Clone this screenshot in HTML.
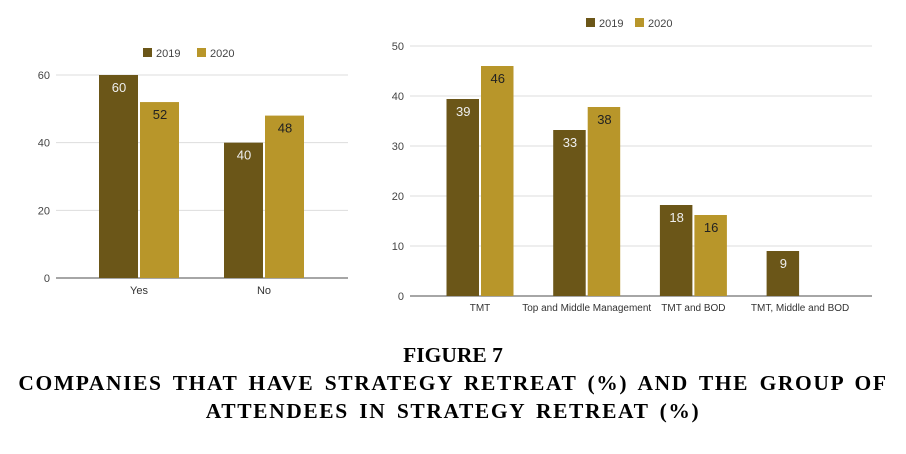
<!DOCTYPE html>
<html><head><meta charset="utf-8"><style>
body{margin:0;background:#fff;width:906px;height:454px;overflow:hidden;position:relative}
.cap{position:absolute;left:0;width:906px;text-align:center;font-family:"Liberation Serif",serif;font-weight:bold;font-size:21.5px;color:#000;line-height:28px;white-space:nowrap}
.wide{letter-spacing:1.6px;word-spacing:3.5px}
</style></head><body>
<svg id="chart" width="906" height="340" style="position:absolute;left:0;top:0" font-family="Liberation Sans, sans-serif"></svg>
<div class="cap" style="top:341px">FIGURE 7<br><span class="wide">COMPANIES THAT HAVE STRATEGY RETREAT (%) AND THE GROUP OF</span><br><span class="wide">ATTENDEES IN STRATEGY RETREAT (%)</span></div>
<script>
const leftCats=["Yes","No"];
const left2019=[60,40];
const left2020=[52,48];
const leftTicks=[0,20,40,60];
const rightCats=["TMT","Top and Middle Management","TMT and BOD","TMT, Middle and BOD"];
const right2019=[39.4,33.2,18.2,9];
const right2020=[46,37.8,16.2,0];
const right2019Labels=["39","33","18","9"];
const right2020Labels=["46","38","16",""];
const rightTicks=[0,10,20,30,40,50];
const C19="#6b5618",C20="#b8962a";
const svg=document.getElementById('chart');
const NS="http://www.w3.org/2000/svg";
function mk(tag,attrs,parent){const e=document.createElementNS(NS,tag);for(const k in attrs)e.setAttribute(k,attrs[k]);(parent||svg).appendChild(e);return e;}
function txt(x,y,s,size,fill,anchor){const t=mk('text',{x:x,y:y,'font-size':size,fill:fill,'text-anchor':anchor||'middle'});t.textContent=s;return t;}
function chart(o){
  const g=mk('g',{});
  
  
  const y=v=>o.y0-(v-o.ymin)/(o.ymax-o.ymin)*(o.y0-o.ytop);
  o.ticks.forEach(t=>{
    const l=mk('line',{x1:o.gx0,x2:o.gx1,y1:y(t),y2:y(t),stroke:t===0?'#888':'#ddd','stroke-width':t===0?1.5:1},g);
    
    
    const tl=txt(o.tickX,y(t)+4,String(t),11,'#444','end');g.appendChild(tl);
    
    
  });
  o.cats.forEach((c,i)=>{
    const cx=o.c0+i*o.step;
    [[o.s19,o.l19,C19,'#eee',-1],[o.s20,o.l20,C20,'#222',0]].forEach(([s,lab,col,lc,off],k)=>{
      const v=s[i];if(!v)return;
      const x=cx+off*o.bw+(k?1:0);
      const r=mk('rect',{x:x,y:y(v),width:o.bw-1,height:y(0)-y(v),fill:col},g);
      
      
      const t=txt(x+o.bw/2,y(v)+17,lab[i],13,lc);g.appendChild(t);
      
      
    });
    const cl=txt(cx,o.y0+o.catDy,c,o.catSize,'#333');g.appendChild(cl);
    
    
  });
  [[C19,'2019',0],[C20,'2020',1]].forEach(([col,s,k])=>{
    const lx=o.legX+k*o.legStep;
    const sq=mk('rect',{x:lx,y:o.legY-5,width:9,height:9,fill:col},g);
    
    
    const t=txt(lx+13,o.legY+4,s,11,'#444','start');g.appendChild(t);
    
    
  });
}
chart({name:'left-chart',cats:leftCats,s19:left2019,s20:left2020,l19:left2019.map(String),l20:left2020.map(String),ticks:leftTicks,ymin:0,ymax:60,y0:278,ytop:75,gx0:56,gx1:348,tickX:50,c0:139,step:125,bw:40,catDy:16,catSize:11,legX:143,legStep:54,legY:53});
chart({name:'right-chart',cats:rightCats,s19:right2019,s20:right2020,l19:right2019Labels,l20:right2020Labels,ticks:rightTicks,ymin:0,ymax:50,y0:296,ytop:46,gx0:410,gx1:872,tickX:404,c0:480,step:106.7,bw:33.5,catDy:15,catSize:10,legX:586,legStep:49,legY:23});
</script>
</body></html>
